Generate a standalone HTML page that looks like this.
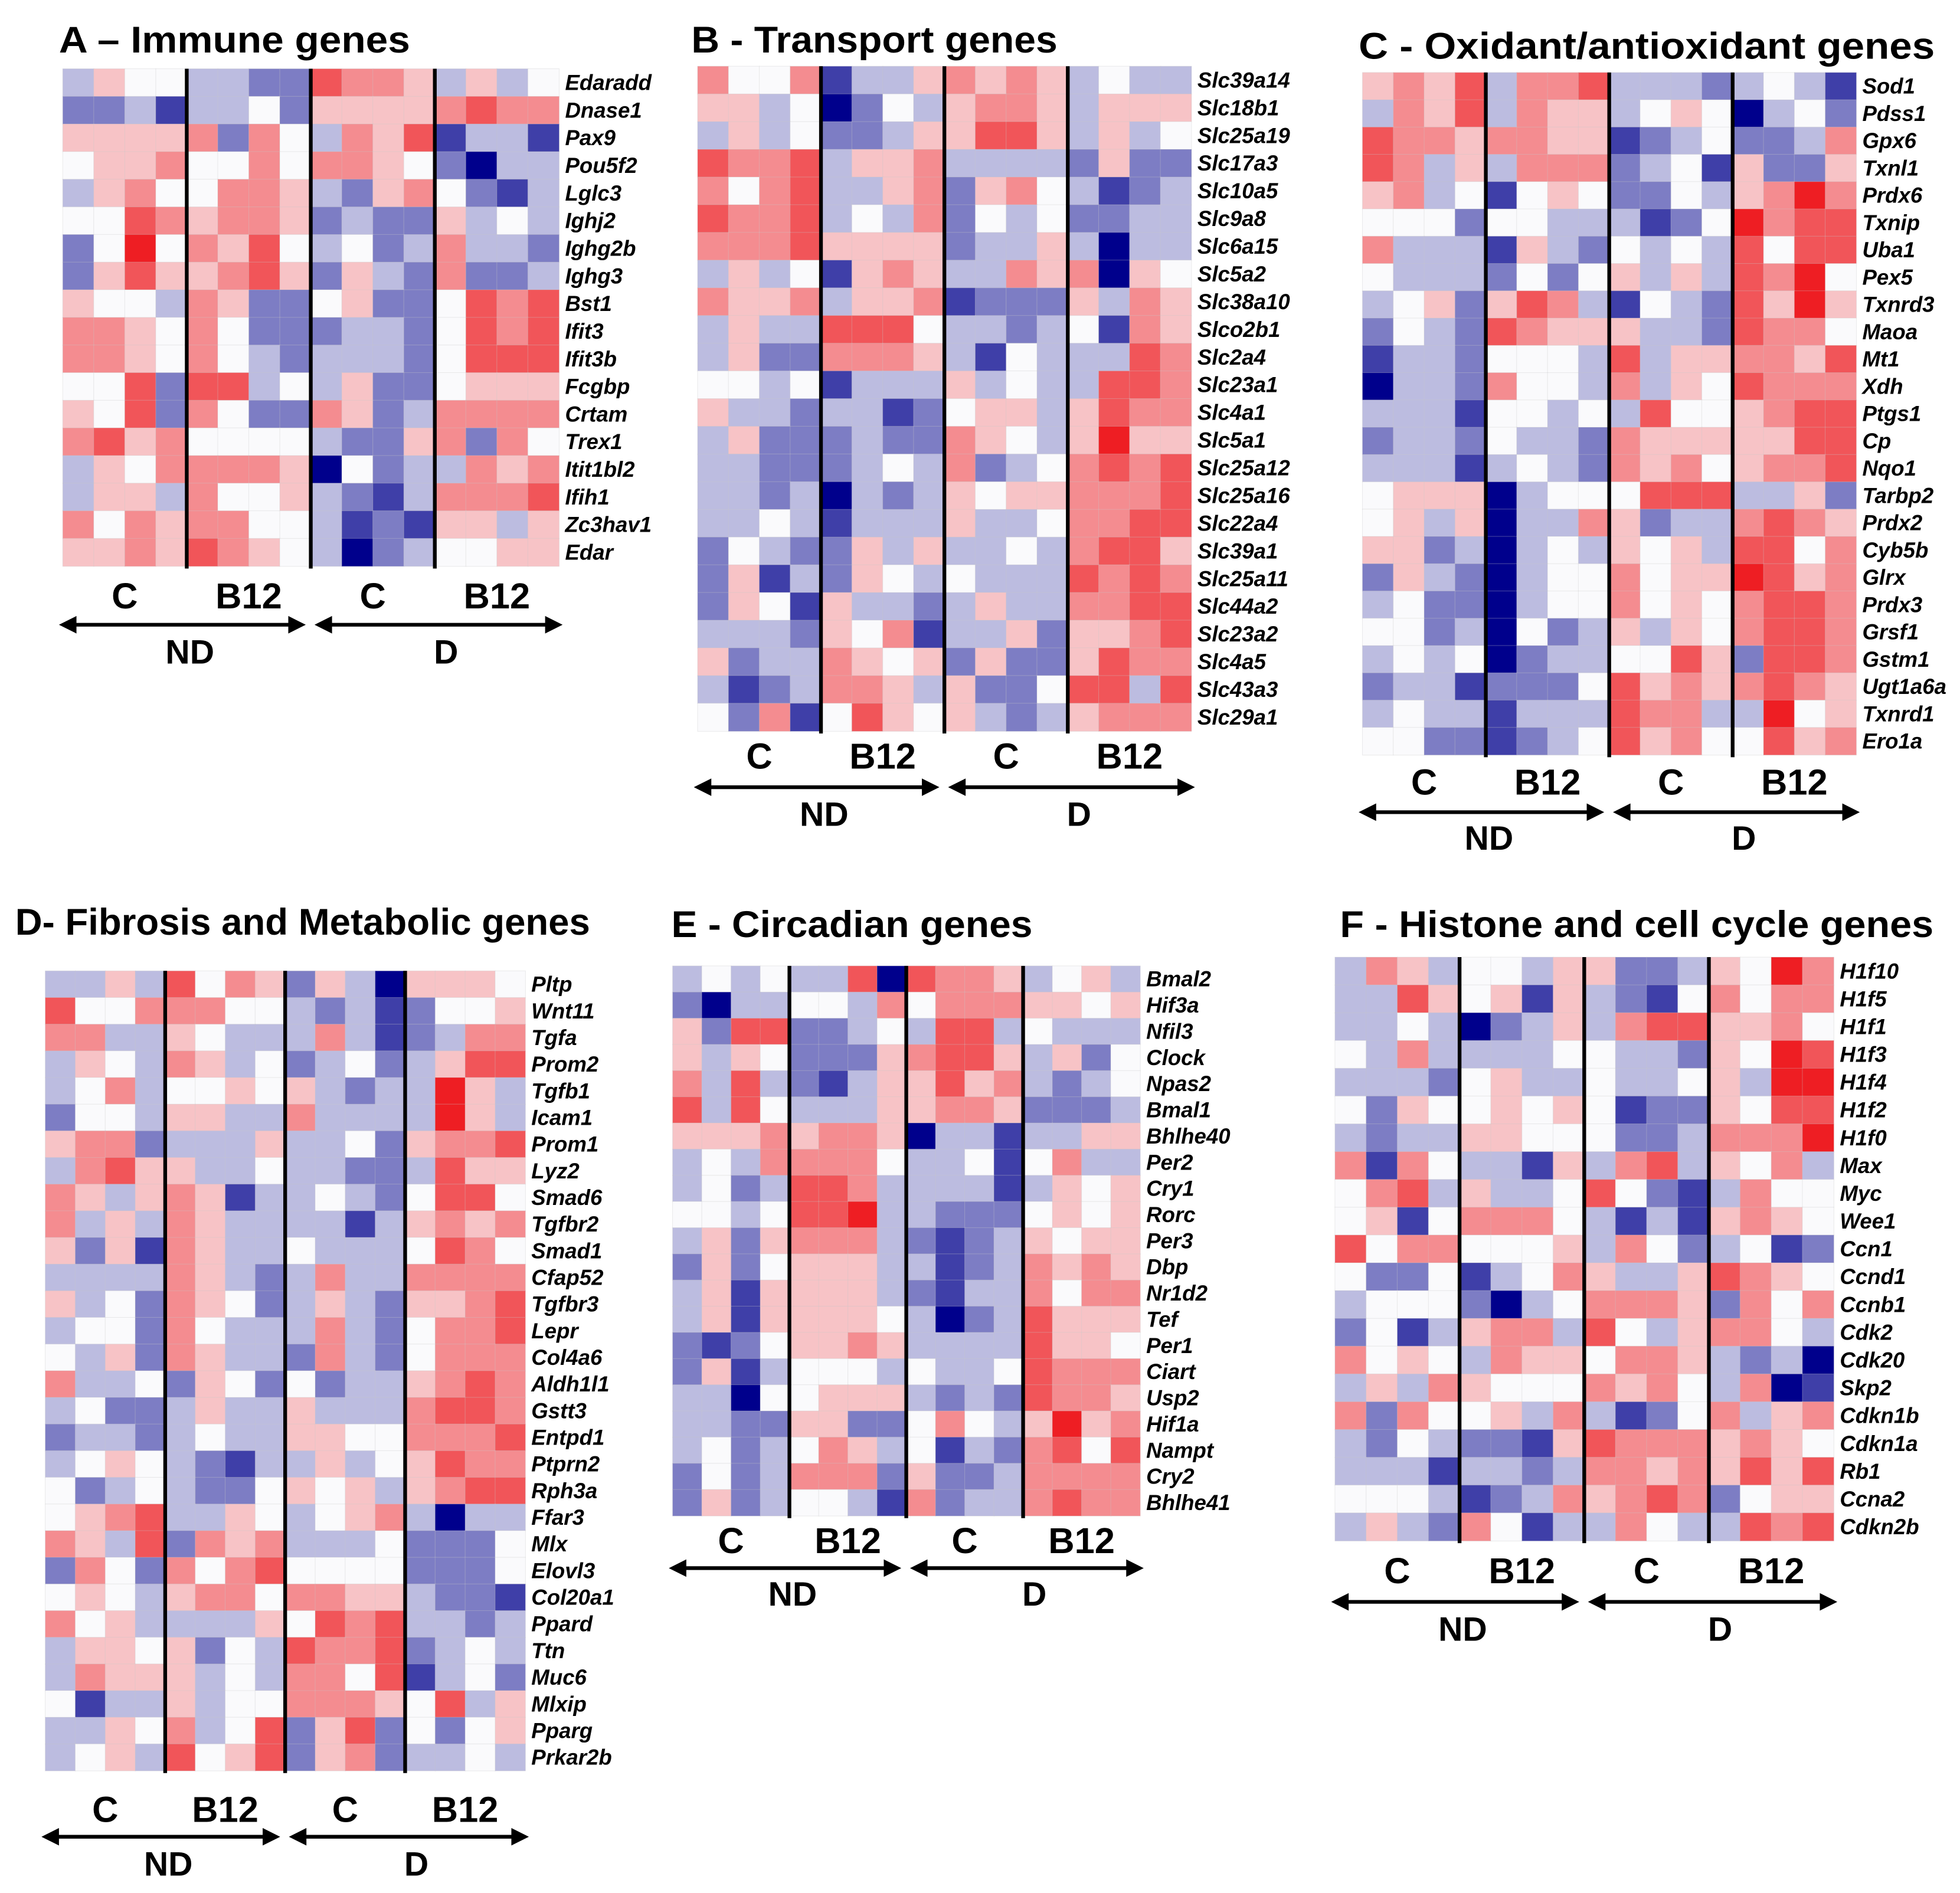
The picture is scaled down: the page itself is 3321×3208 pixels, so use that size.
<!DOCTYPE html>
<html><head><meta charset="utf-8"><style>
html,body{margin:0;padding:0;background:#fff}
svg{display:block}
.t{font-family:"Liberation Sans",sans-serif;font-weight:bold;fill:#000}
.g{font-family:"Liberation Sans",sans-serif;font-weight:bold;font-style:italic;fill:#000;font-size:17.3px}
</style></head><body>
<svg id="fig" width="3321" height="3208" viewBox="0 0 1568 1515" xmlns="http://www.w3.org/2000/svg">
<rect x="0" y="0" width="1568" height="1515" fill="#fff"/>
</svg>
<script>
const genesA=["Edaradd","Dnase1","Pax9","Pou5f2","Lglc3","Ighj2","Ighg2b","Ighg3","Bst1","Ifit3","Ifit3b","Fcgbp","Crtam","Trex1","Itit1bl2","Ifih1","Zc3hav1","Edar"];
const valuesA=["3544332276653534","2231334255556766","5555626436571331","4556446466542033","3564466532564213","4476566523225343","2484657434236332","2575567525326223","5443652245224767","6654642223324767","6654643233324777","4472773435224555","5472642265236666","6756444432256264","3546666504233656","3553644532136667","6465664431215535","5565765430234455"];
const genesB=["Slc39a14","Slc18b1","Slc25a19","Slc17a3","Slc10a5","Slc9a8","Slc6a15","Slc5a2","Slc38a10","Slco2b1","Slc2a4","Slc23a1","Slc4a1","Slc5a1","Slc25a12","Slc25a16","Slc22a4","Slc39a1","Slc25a11","Slc44a2","Slc23a2","Slc4a5","Slc43a3","Slc29a1"];
const valuesB=["6446133565653433","5534024356653555","3534223557753534","7667355633332522","6467335625643123","7667343624342233","6667555523353033","3534156533656054","6556355612225365","3533777433234165","3522666531433376","4434133353433776","5332331245535766","3522232265435855","3322234362346767","3323032354556667","3343133353346677","2432253533436775","2513254343337676","2541533235336677","3332546133525567","5233654525225766","3123665352247737","4261475453235666"];
const genesC=["Sod1","Pdss1","Gpx6","Txnl1","Prdx6","Txnip","Uba1","Pex5","Txnrd3","Maoa","Mt1","Xdh","Ptgs1","Cp","Nqo1","Tarbp2","Prdx2","Cyb5b","Glrx","Prdx3","Grsf1","Gstm1","Ugt1a6a","Txnrd1","Ero1a"];
const valuesC=["5657366733323431","3657365534540342","7665665512342236","7635366623415225","5634145422435686","4442443331248677","6333153243437477","4333242453537684","3452576314327585","2432765553327664","1332444373556657","0332644363547666","3331443437445677","2332433265555577","3331343265645667","4555034447773352","4535033652336765","5523034354537746","2532034464558756","3422034464546776","4423042353546776","3434023344752776","2331222475656765","3433133376633845","4422123475644756"];
const genesD=["Pltp","Wnt11","Tgfa","Prom2","Tgfb1","Icam1","Prom1","Lyz2","Smad6","Tgfbr2","Smad1","Cfap52","Tgfbr3","Lepr","Col4a6","Aldh1l1","Gstt3","Entpd1","Ptprn2","Rph3a","Ffar3","Mlx","Elovl3","Col20a1","Ppard","Ttn","Muc6","Mlxip","Pparg","Prkar2b"];
const valuesD=["3353746525305554","7446664432312445","6633543336312366","3543653423423577","3463445453233853","2443553363333853","5662333533425667","3675533433223755","6535651334324774","6353653333135656","5251653343334764","3333653236336666","5342654235325567","3442643336324667","4352653326324666","6334254242335676","3422353353336776","2332343355446667","3454321335345766","4234322454535677","4567335434563033","6537265633342224","2642646744442224","4543566466553221","6453333547673323","3554524376672343","3655534366471342","4133534466654735","3354634725724245","3453745725623343"];
const genesE=["Bmal2","Hif3a","Nfil3","Clock","Npas2","Bmal1","Bhlhe40","Per2","Cry1","Rorc","Per3","Dbp","Nr1d2","Tef","Per1","Ciart","Usp2","Hif1a","Nampt","Cry2","Bhlhe41"];
const valuesE=["3434337076653453","2033443646665545","5277223437734333","5354222567753524","6373213557563234","7374333556652223","5556566503313355","3436666433414633","3423776333313545","4434778332224545","3525666321235455","2524555331236565","3515555321336466","3515555430237555","2124556533337554","2513444343347666","3304455532327665","3322552246435856","3423465341326747","2423666252236666","2523443162336766"];
const genesF=["H1f10","H1f5","H1f1","H1f3","H1f4","H1f2","H1f0","Max","Myc","Wee1","Ccn1","Ccnd1","Ccnb1","Cdk2","Cdk20","Skp2","Cdkn1b","Cdkn1a","Rb1","Ccna2","Cdkn2b"];
const valuesF=["3653443552235486","3375451532146466","3343023536775564","4363333443325487","3332453343345388","4254454541225477","3233554442236668","6164331536735463","4673533474213644","4514666431315654","7466444536423412","4224134653357654","3444203466652646","2413566374356643","6454365546653230","3536544465643601","6264453631246356","3243221576665654","3331332366565757","4443123656762455","3532641336433767"];

const SVGNS="http://www.w3.org/2000/svg";
const fig=document.getElementById('fig');
function mk(tag,attrs,parent){const e=document.createElementNS(SVGNS,tag);for(const k in attrs)e.setAttribute(k,attrs[k]);(parent||fig).appendChild(e);return e;}
function color(v){
  const t=(v-4)/4;
  if(t<0){const a=-t;return `rgb(${Math.round(250-250*a)},${Math.round(250-250*a)},${Math.round(252-112*a)})`;}
  const a=t;return `rgb(${Math.round(250-12*a)},${Math.round(250-220*a)},${Math.round(252-217*a)})`;
}
function panel(key,title,tx,ty,tw,genes,vals,x0,x1,y0,y1,labY,arrY,ndY){
  const g=mk('g',{});
  
  
  const tt=mk('text',{x:tx,y:ty,'class':'t','font-size':30,textLength:tw,lengthAdjust:'spacingAndGlyphs'},g);
  tt.textContent=title;
  
  
  const nr=genes.length,nc=16;
  const cw=(x1-x0)/nc,rh=(y1-y0)/nr;
  const hm=mk('g',{},g);
  
  
  for(let r=0;r<nr;r++){
    for(let c=0;c<nc;c++){
      const v=parseInt(vals[r][c],10);
      const rc=mk('rect',{x:(x0+c*cw).toFixed(2),y:(y0+r*rh).toFixed(2),width:(cw+0.3).toFixed(2),height:(rh+0.3).toFixed(2),fill:color(v),stroke:'rgba(200,200,200,0.35)','stroke-width':0.5},hm);
      
      
    }
    const lb=mk('text',{x:x1+5,y:(y0+(r+0.5)*rh+6).toFixed(2),'class':'g'},g);
    lb.textContent=genes[r];
    
    
  }
  for(let k=1;k<4;k++){
    const xx=x0+k*4*cw;
    const sl=mk('line',{x1:xx,y1:y0,x2:xx,y2:y1+2,stroke:'#000','stroke-width':3},g);
    
    
  }
  const gl=['C','B12','C','B12'];
  for(let k=0;k<4;k++){
    const cx=x0+(k*4+2)*cw;
    const t=mk('text',{x:cx,y:labY,'class':'t','font-size':29,'text-anchor':'middle'},g);
    t.textContent=gl[k];
    
    
  }
  const mid=x0+8*cw;
  const arrs=[[x0-3,mid-4,'ND'],[mid+3,x1+3,'D']];
  arrs.forEach(a=>{
    const ag=mk('g',{},g);
    
    
    mk('line',{x1:a[0]+8,y1:arrY,x2:a[1]-8,y2:arrY,stroke:'#000','stroke-width':3},ag);
    mk('polygon',{points:`${a[0]},${arrY} ${a[0]+14},${arrY-7} ${a[0]+14},${arrY+7}`,fill:'#000'},ag);
    mk('polygon',{points:`${a[1]},${arrY} ${a[1]-14},${arrY-7} ${a[1]-14},${arrY+7}`,fill:'#000'},ag);
    const t=mk('text',{x:(a[0]+a[1])/2+6,y:ndY,'class':'t','font-size':27,'text-anchor':'middle'},ag);
    t.textContent=a[2];
    
    
  });
}
panel('a','A – Immune genes',47,42,281,genesA,valuesA,50,447,55,453,487,500,531);
panel('b','B - Transport genes',553,42,293,genesB,valuesB,558,953,53,585,615,630,661);
panel('c','C - Oxidant/antioxidant genes',1087,47,461,genesC,valuesC,1090,1485,58,604,636,650,680);
panel('d','D- Fibrosis and Metabolic genes',12,748,460,genesD,valuesD,36,420,777,1417,1458,1470,1501);
panel('e','E - Circadian genes',537,750,289,genesE,valuesE,538,912,773,1213,1243,1255,1285);
panel('f','F - Histone and cell cycle genes',1072,750,475,genesF,valuesF,1068,1467,766,1233,1267,1282,1313);
</script>
</body></html>
